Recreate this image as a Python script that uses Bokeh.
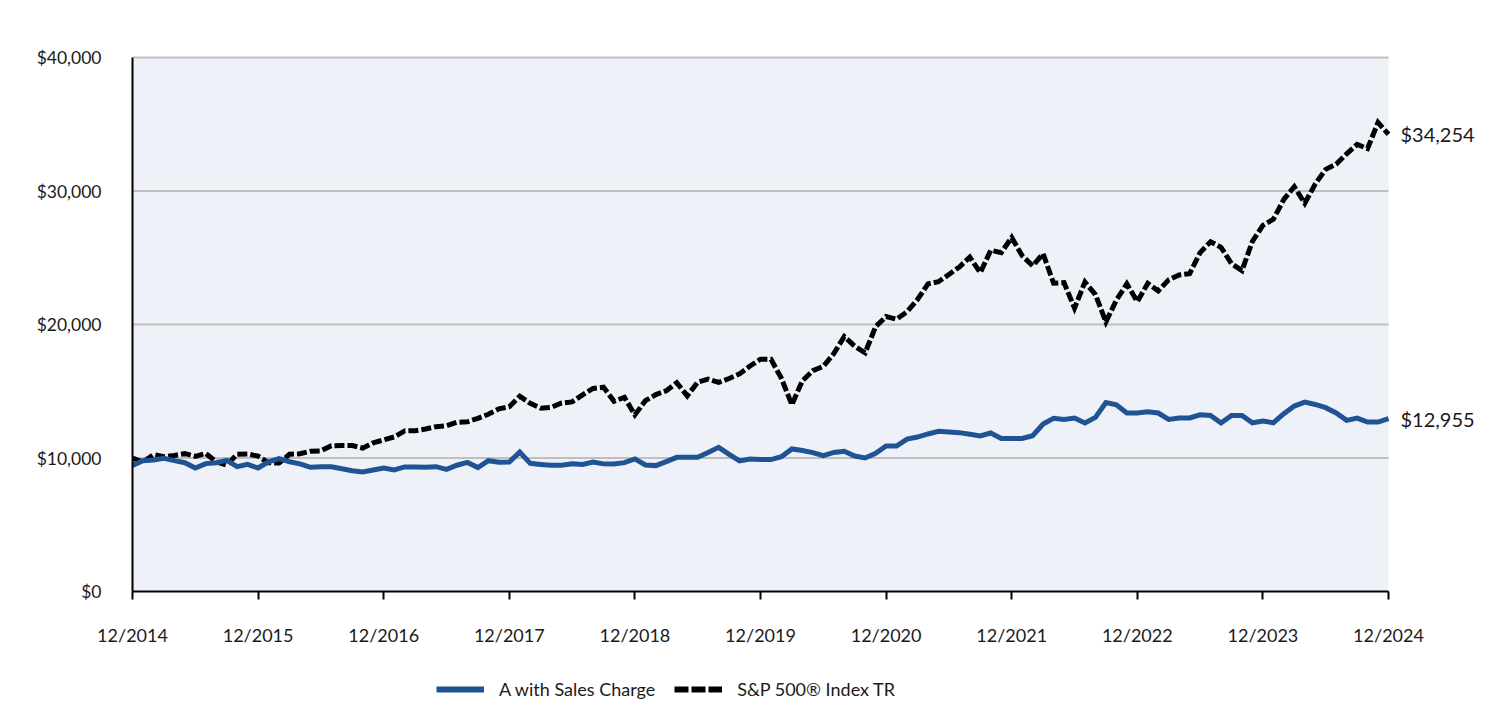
from bokeh.plotting import figure
from bokeh.layouts import column
from bokeh.models import (FixedTicker, NumeralTickFormatter, Legend, LegendItem,
                          Range1d, BoxAnnotation)
from bokeh.core.properties import value
from bokeh.embed import file_html
from bokeh.resources import INLINE

# ---- data (month index 0 = 12/2014 ... 120 = 12/2024) ----
year_labels = ["12/2014", "12/2015", "12/2016", "12/2017", "12/2018", "12/2019",
               "12/2020", "12/2021", "12/2022", "12/2023", "12/2024"]
y_ticks = [0, 10000, 20000, 30000, 40000]

fund = [9450, 9800, 9850, 9980, 9800, 9650, 9250, 9580, 9650, 9820, 9350, 9520, 9250,
        9720, 9950, 9720, 9560, 9300, 9350, 9350, 9200, 9050, 8950, 9100, 9250,
        9100, 9330, 9320, 9300, 9350, 9150, 9460, 9670, 9280, 9800, 9680, 9700,
        10440, 9600, 9520, 9450, 9450, 9560, 9520, 9700, 9560, 9550, 9650, 9930,
        9480, 9430, 9730, 10050, 10050, 10050, 10420, 10800, 10270, 9780, 9930, 9880,
        9880, 10100, 10680, 10560, 10400, 10170, 10420, 10500, 10150, 10000, 10350, 10900,
        10900, 11420, 11570, 11800, 12000, 11950, 11900, 11780, 11650, 11870, 11470, 11470,
        11470, 11670, 12540, 12970, 12890, 12990, 12620, 13040, 14160, 13990, 13370, 13370,
        13470, 13370, 12890, 12990, 13000, 13240, 13190, 12620, 13190, 13190, 12640, 12770,
        12640, 13320, 13890, 14190, 14010, 13770, 13370, 12820, 12990, 12690, 12690, 12955]

sp500 = [10000, 9700, 10258, 10096, 10193, 10324, 10124, 10337, 9713, 9473, 10273, 10304, 10141,
         9638, 9626, 10279, 10319, 10505, 10532, 10921, 10936, 10938, 10739, 11136, 11357,
         11573, 12032, 12046, 12170, 12342, 12419, 12675, 12714, 12976, 13278, 13686, 13838,
         14631, 14091, 13733, 13785, 14117, 14205, 14733, 15213, 15300, 14253, 14544, 13231,
         14291, 14750, 15036, 15645, 14652, 15685, 15911, 15660, 15953, 16299, 16891, 17401,
         17394, 15962, 13991, 15785, 16536, 16865, 17816, 19097, 18371, 17882, 19840, 20602,
         20394, 20957, 21875, 23043, 23204, 23745, 24310, 25049, 23884, 25558, 25382, 26519,
         25148, 24396, 25301, 23095, 23137, 21228, 23185, 22239, 20191, 21826, 23046, 21719,
         23083, 22520, 23346, 23710, 23812, 25386, 26201, 25784, 24554, 24038, 26233, 27424,
         27885, 29374, 30320, 29083, 30525, 31621, 32007, 32785, 33487, 33182, 35130, 34254]

months = list(range(len(fund)))
series_names = ["A with Sales Charge", "S&P 500\u00ae Index TR"]
end_labels = ["$12,955", "$34,254"]

FONT = "Lato"
TEXT = "#1a1a1a"
BLUE = "#1f5394"
x0, x1 = months[0], months[-1]
y0, y1 = y_ticks[0], y_ticks[-1]

# ---------------- main chart ----------------
# frame spans past the last month so that the end labels fit inside it
p = figure(width=1504, height=648, output_backend="svg", toolbar_location=None,
           x_range=Range1d(x0, x1 * 1372 / 1256), y_range=Range1d(y0, y1 * 1.0075),
           min_border_left=132, min_border_right=0, min_border_top=53,
           min_border_bottom=56)
p.background_fill_color = "white"
p.border_fill_color = "white"
p.outline_line_color = None
p.xgrid.visible = False
p.ygrid.visible = False

p.add_layout(BoxAnnotation(left=x0, right=x1, bottom=y0, top=y1,
                           fill_color="#eef2f8", fill_alpha=1, line_color=None,
                           level="underlay"))
p.segment(x0=[x0] * (len(y_ticks) - 1), x1=[x1] * (len(y_ticks) - 1),
          y0=y_ticks[1:], y1=y_ticks[1:], line_color="#bfbfbf", line_width=2)

yax = p.yaxis[0]
yax.ticker = FixedTicker(ticks=y_ticks)
yax.formatter = NumeralTickFormatter(format="$0,0")
yax.bounds = (y0, y1)
yax.major_tick_line_color = None
yax.minor_tick_line_color = None
yax.axis_line_color = "black"
yax.axis_line_width = 2
yax.major_label_standoff = 25
yax.major_label_text_font = FONT
yax.major_label_text_font_size = "17.5px"
yax.major_label_text_color = TEXT

xax = p.xaxis[0]
xax.ticker = FixedTicker(ticks=[12 * i for i in range(len(year_labels))])
xax.major_label_overrides = {12 * i: lab for i, lab in enumerate(year_labels)}
xax.bounds = (x0, x1)
xax.major_tick_out = 8
xax.major_tick_in = 0
xax.major_tick_line_width = 2
xax.major_tick_line_color = "black"
xax.minor_tick_line_color = None
xax.axis_line_color = "black"
xax.axis_line_width = 2
xax.major_label_standoff = 24
xax.major_label_text_font = FONT
xax.major_label_text_font_size = "18px"
xax.major_label_text_color = TEXT

p.line(months, sp500, line_color="black", line_width=5, line_dash="10 3",
       line_join="miter")
p.line(months, fund, line_color=BLUE, line_width=5, line_join="miter")

p.text(x=[x1, x1], y=[fund[-1], sp500[-1]], text=end_labels, x_offset=12,
       text_baseline="middle", text_align="left", text_font=value(FONT),
       text_font_size="20px", text_color=TEXT)

# ---------------- legend strip ----------------
# same series, drawn outside this strip's ranges, so only the legend shows
lg = figure(width=1504, height=52, output_backend="svg", toolbar_location=None,
            x_range=Range1d(-2, -1), y_range=Range1d(-2, -1), title=None,
            min_border=0, outline_line_color=None)
lg.axis.visible = False
lg.grid.visible = False
lg.background_fill_color = "white"
lg.border_fill_color = "white"
l_fund = lg.line(months, fund, line_color=BLUE, line_width=6)
l_sp = lg.line(months, sp500, line_color="black", line_width=6, line_dash="14 3")

legend = Legend(items=[LegendItem(label=series_names[0], renderers=[l_fund]),
                       LegendItem(label=series_names[1], renderers=[l_sp])],
                location=(304, 0), orientation="horizontal",
                glyph_width=48, glyph_height=10, label_height=10,
                label_standoff=15, spacing=19, padding=0, margin=0,
                border_line_color=None, background_fill_alpha=0,
                label_text_font=FONT, label_text_font_size="18px",
                label_text_color=TEXT)
lg.add_layout(legend)

layout = column(p, lg, spacing=0)
open("out.html", "w").write(file_html(layout, INLINE))
